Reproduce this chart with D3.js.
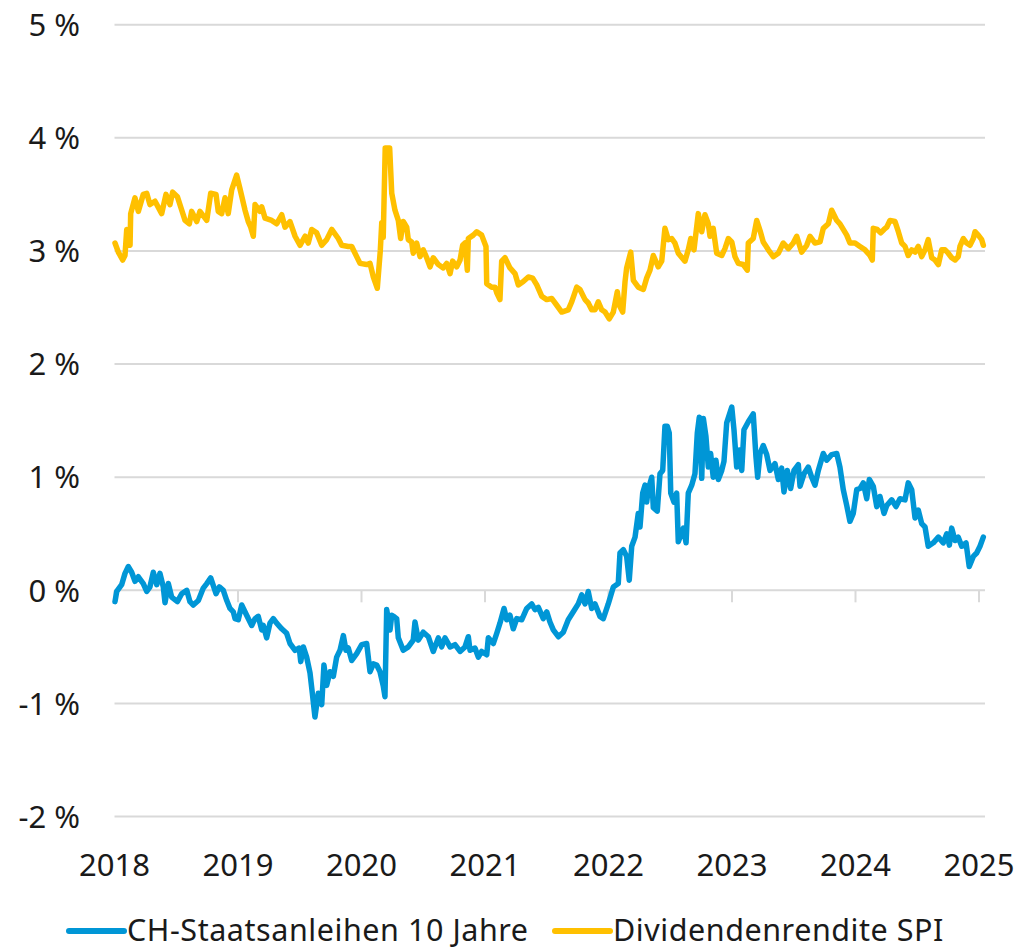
<!DOCTYPE html>
<html><head><meta charset="utf-8">
<script src="https://cdn.jsdelivr.net/npm/d3@7/dist/d3.min.js"></script>
<style>
html,body{margin:0;padding:0;background:#fff;}
svg{display:block;font-family:"Noto Sans",sans-serif;}
</style></head>
<body><svg id="chart" width="1020" height="950"></svg>
<script>
// ---- data (decimal years, percent) ----
const yearTicks = [2018, 2019, 2020, 2021, 2022, 2023, 2024, 2025];
const valueTicks = [-2, -1, 0, 1, 2, 3, 4, 5];
const seriesNames = ["CH-Staatsanleihen 10 Jahre", "Dividendenrendite SPI"];

const bondT = [2018.004,2018.018,2018.058,2018.085,2018.112,2018.139,2018.166,2018.193,2018.233,2018.261,2018.287,2018.314,2018.342,2018.368,2018.395,2018.409,2018.436,2018.463,2018.509,2018.544,2018.585,2018.611,2018.638,2018.679,2018.719,2018.747,2018.779,2018.822,2018.849,2018.881,2018.909,2018.935,2018.962,2018.976,2019.002,2019.030,2019.070,2019.111,2019.138,2019.164,2019.192,2019.205,2019.232,2019.259,2019.286,2019.313,2019.354,2019.394,2019.421,2019.462,2019.496,2019.508,2019.529,2019.556,2019.583,2019.605,2019.623,2019.650,2019.678,2019.696,2019.718,2019.745,2019.772,2019.799,2019.826,2019.853,2019.874,2019.893,2019.921,2019.961,2020.002,2020.042,2020.069,2020.096,2020.123,2020.150,2020.177,2020.190,2020.204,2020.231,2020.245,2020.259,2020.285,2020.298,2020.338,2020.379,2020.419,2020.433,2020.460,2020.500,2020.541,2020.581,2020.622,2020.649,2020.676,2020.717,2020.757,2020.798,2020.838,2020.865,2020.879,2020.919,2020.946,2020.973,2021.014,2021.027,2021.067,2021.095,2021.121,2021.154,2021.176,2021.202,2021.229,2021.257,2021.297,2021.338,2021.378,2021.405,2021.432,2021.472,2021.500,2021.526,2021.553,2021.594,2021.634,2021.674,2021.715,2021.755,2021.783,2021.810,2021.836,2021.864,2021.891,2021.931,2021.958,2021.998,2022.039,2022.079,2022.093,2022.120,2022.147,2022.168,2022.188,2022.215,2022.241,2022.255,2022.277,2022.296,2022.309,2022.322,2022.350,2022.363,2022.395,2022.417,2022.439,2022.457,2022.476,2022.492,2022.504,2022.530,2022.552,2022.565,2022.606,2022.628,2022.646,2022.674,2022.700,2022.719,2022.735,2022.755,2022.768,2022.789,2022.808,2022.827,2022.848,2022.870,2022.889,2022.917,2022.935,2022.957,2022.998,2023.016,2023.038,2023.059,2023.079,2023.097,2023.132,2023.172,2023.194,2023.208,2023.227,2023.253,2023.281,2023.308,2023.348,2023.375,2023.402,2023.421,2023.448,2023.475,2023.502,2023.537,2023.551,2023.583,2023.618,2023.645,2023.672,2023.699,2023.739,2023.767,2023.807,2023.848,2023.874,2023.901,2023.929,2023.955,2023.982,2024.010,2024.036,2024.063,2024.091,2024.112,2024.144,2024.172,2024.198,2024.231,2024.253,2024.293,2024.328,2024.360,2024.401,2024.427,2024.455,2024.482,2024.508,2024.536,2024.563,2024.589,2024.630,2024.671,2024.711,2024.739,2024.760,2024.779,2024.806,2024.832,2024.860,2024.895,2024.921,2024.954,2024.981,2025.008,2025.035];
const bondV = [-0.10,-0.01,0.05,0.15,0.21,0.16,0.08,0.12,0.06,-0.01,0.03,0.16,0.05,0.15,0.03,-0.11,0.06,-0.06,-0.10,-0.03,0.00,-0.10,-0.13,-0.09,0.02,0.06,0.11,-0.03,0.03,0.00,-0.09,-0.16,-0.19,-0.25,-0.26,-0.13,-0.22,-0.31,-0.25,-0.23,-0.35,-0.31,-0.42,-0.29,-0.25,-0.29,-0.34,-0.38,-0.47,-0.53,-0.51,-0.63,-0.50,-0.59,-0.73,-0.94,-1.12,-0.91,-1.01,-0.66,-0.84,-0.72,-0.76,-0.59,-0.53,-0.40,-0.53,-0.51,-0.62,-0.56,-0.48,-0.47,-0.72,-0.65,-0.66,-0.72,-0.85,-0.94,-0.17,-0.35,-0.22,-0.23,-0.25,-0.42,-0.53,-0.50,-0.44,-0.28,-0.44,-0.37,-0.41,-0.54,-0.42,-0.50,-0.42,-0.50,-0.48,-0.54,-0.50,-0.41,-0.53,-0.51,-0.59,-0.54,-0.57,-0.42,-0.47,-0.38,-0.29,-0.16,-0.26,-0.22,-0.34,-0.25,-0.26,-0.16,-0.12,-0.17,-0.15,-0.25,-0.19,-0.28,-0.35,-0.41,-0.37,-0.26,-0.19,-0.12,-0.04,-0.12,-0.01,-0.16,-0.12,-0.23,-0.25,-0.12,0.03,0.06,0.33,0.36,0.30,0.09,0.39,0.47,0.68,0.56,0.86,0.93,0.78,0.89,1.00,0.73,0.70,1.03,1.06,1.45,1.45,1.39,0.86,0.78,0.86,0.43,0.55,0.42,0.86,0.93,1.03,1.39,1.53,0.99,1.52,1.36,1.09,1.21,1.00,1.15,0.98,1.06,1.14,1.48,1.62,1.42,1.09,1.24,1.06,1.42,1.49,1.56,1.18,1.00,1.21,1.28,1.20,1.06,1.12,0.98,1.08,0.87,1.06,0.90,1.06,1.11,0.92,1.03,1.09,1.00,0.93,1.06,1.21,1.15,1.20,1.21,1.09,0.89,0.75,0.61,0.68,0.89,0.90,0.95,0.81,0.98,0.92,0.74,0.83,0.68,0.75,0.80,0.74,0.81,0.80,0.95,0.89,0.64,0.71,0.59,0.56,0.39,0.42,0.47,0.42,0.50,0.40,0.55,0.44,0.47,0.39,0.42,0.21,0.30,0.33,0.39,0.47];

const spiT = [2018.004,2018.031,2018.066,2018.085,2018.099,2018.126,2018.131,2018.166,2018.193,2018.233,2018.261,2018.287,2018.328,2018.382,2018.417,2018.449,2018.471,2018.509,2018.571,2018.606,2018.625,2018.666,2018.692,2018.747,2018.779,2018.822,2018.840,2018.868,2018.895,2018.921,2018.949,2018.989,2019.016,2019.057,2019.083,2019.103,2019.124,2019.138,2019.178,2019.192,2019.219,2019.273,2019.313,2019.354,2019.381,2019.421,2019.462,2019.502,2019.543,2019.569,2019.597,2019.637,2019.678,2019.718,2019.759,2019.812,2019.840,2019.893,2019.921,2019.961,2019.988,2020.042,2020.069,2020.096,2020.128,2020.152,2020.164,2020.176,2020.192,2020.228,2020.245,2020.271,2020.298,2020.317,2020.338,2020.366,2020.379,2020.406,2020.419,2020.447,2020.474,2020.500,2020.528,2020.555,2020.581,2020.622,2020.662,2020.690,2020.717,2020.738,2020.771,2020.798,2020.819,2020.838,2020.857,2020.865,2020.905,2020.933,2020.973,2021.008,2021.014,2021.054,2021.081,2021.095,2021.121,2021.135,2021.162,2021.202,2021.243,2021.270,2021.310,2021.351,2021.386,2021.419,2021.459,2021.500,2021.540,2021.581,2021.621,2021.674,2021.702,2021.743,2021.769,2021.810,2021.836,2021.864,2021.891,2021.917,2021.945,2021.972,2022.006,2022.039,2022.071,2022.087,2022.115,2022.134,2022.147,2022.180,2022.201,2022.241,2022.282,2022.309,2022.336,2022.363,2022.403,2022.431,2022.457,2022.484,2022.512,2022.538,2022.565,2022.619,2022.646,2022.666,2022.692,2022.727,2022.755,2022.781,2022.808,2022.822,2022.848,2022.876,2022.917,2022.943,2022.970,2022.998,2023.024,2023.051,2023.091,2023.124,2023.132,2023.172,2023.200,2023.227,2023.253,2023.294,2023.334,2023.375,2023.415,2023.456,2023.496,2023.524,2023.564,2023.605,2023.632,2023.672,2023.713,2023.739,2023.780,2023.807,2023.848,2023.874,2023.901,2023.929,2023.955,2023.996,2024.036,2024.077,2024.117,2024.136,2024.144,2024.176,2024.204,2024.231,2024.253,2024.279,2024.320,2024.347,2024.374,2024.401,2024.427,2024.455,2024.482,2024.508,2024.536,2024.563,2024.589,2024.617,2024.644,2024.671,2024.698,2024.725,2024.751,2024.779,2024.806,2024.832,2024.846,2024.873,2024.900,2024.927,2024.954,2024.968,2024.994,2025.022,2025.035];
const spiV = [3.07,2.99,2.92,2.96,3.19,3.05,3.33,3.47,3.35,3.50,3.51,3.41,3.44,3.33,3.50,3.41,3.52,3.48,3.27,3.24,3.35,3.26,3.35,3.27,3.51,3.50,3.35,3.33,3.47,3.33,3.54,3.67,3.55,3.36,3.26,3.21,3.13,3.41,3.35,3.39,3.29,3.27,3.24,3.32,3.21,3.26,3.13,3.05,3.13,3.07,3.19,3.16,3.05,3.10,3.19,3.11,3.05,3.04,3.04,2.95,2.89,2.88,2.89,2.77,2.67,3.00,3.25,3.12,3.91,3.91,3.51,3.36,3.27,3.11,3.26,3.21,3.10,3.08,2.98,3.07,2.95,3.01,2.94,2.86,2.94,2.88,2.85,2.89,2.80,2.91,2.86,2.92,3.05,3.07,2.83,3.11,3.14,3.17,3.14,3.04,2.71,2.68,2.68,2.63,2.57,2.91,2.94,2.85,2.80,2.70,2.73,2.77,2.76,2.70,2.60,2.57,2.58,2.52,2.46,2.48,2.55,2.68,2.66,2.57,2.54,2.48,2.48,2.55,2.48,2.46,2.40,2.46,2.64,2.52,2.46,2.73,2.85,2.99,2.74,2.68,2.66,2.76,2.83,2.96,2.86,2.91,3.20,3.10,3.11,3.07,2.98,2.91,3.01,3.11,3.01,3.33,3.17,3.32,3.24,3.13,3.20,2.98,2.96,3.02,3.11,3.08,2.95,2.89,2.88,2.83,3.07,3.11,3.27,3.18,3.08,3.01,2.95,2.98,3.07,3.02,3.07,3.13,2.99,3.05,3.13,3.07,3.08,3.20,3.24,3.36,3.27,3.24,3.19,3.14,3.07,3.07,3.04,3.01,2.96,2.92,3.20,3.19,3.16,3.19,3.21,3.27,3.26,3.17,3.07,3.04,2.96,3.01,2.99,3.04,2.95,3.01,3.10,2.94,2.92,2.88,3.01,3.01,2.98,2.94,2.92,2.95,3.04,3.11,3.07,3.05,3.11,3.17,3.14,3.10,3.05];

const colors = ["#0096D6", "#FFC000"];

// ---- drawing ----
const svg = d3.select("#chart");
const x = d3.scaleLinear().domain([2018, 2025]).range([114.5, 979]);
const y = d3.scaleLinear().domain([-2, 5]).range([816.6, 24.7]);
const gridRight = 985;

// gridlines
svg.append("g").selectAll("line").data(valueTicks).join("line")
  .attr("x1", x(2018)).attr("x2", gridRight)
  .attr("y1", d => y(d)).attr("y2", d => y(d))
  .attr("stroke", "#D9D9D9").attr("stroke-width", 2);

// year ticks at 0 line
svg.append("g").selectAll("line").data(yearTicks).join("line")
  .attr("x1", d => x(d)).attr("x2", d => x(d))
  .attr("y1", y(0)).attr("y2", y(0) + 12)
  .attr("stroke", "#D9D9D9").attr("stroke-width", 2);

// y labels
svg.append("g").selectAll("text").data(valueTicks).join("text")
  .attr("x", 80).attr("y", d => y(d)).attr("dy", "0.36em")
  .attr("text-anchor", "end").attr("font-size", 31).attr("fill", "#1a1a1a")
  .text(d => d + " %");

// x labels
svg.append("g").selectAll("text").data(yearTicks).join("text")
  .attr("x", d => x(d)).attr("y", 876)
  .attr("text-anchor", "middle").attr("font-size", 31).attr("fill", "#1a1a1a")
  .text(d => d);

const line = d3.line().x(d => x(d[0])).y(d => y(d[1]));
const series = [d3.zip(bondT, bondV), d3.zip(spiT, spiV)];
svg.append("g").selectAll("path").data(series).join("path")
  .attr("d", line).attr("fill", "none")
  .attr("stroke", (d, i) => colors[i]).attr("stroke-width", 5.5)
  .attr("stroke-linejoin", "round").attr("stroke-linecap", "round");

// legend
const legendX = [69, 555];
const lg = svg.append("g").selectAll("g").data(seriesNames).join("g")
  .attr("transform", (d, i) => `translate(${legendX[i]},931)`);
lg.append("line").attr("x1", 0).attr("x2", 55).attr("y1", 0).attr("y2", 0)
  .attr("stroke", (d, i) => colors[i]).attr("stroke-width", 6).attr("stroke-linecap", "round");
lg.append("text").attr("x", 58).attr("y", 10).attr("font-size", 30.5)
  .attr("letter-spacing", 0.55).attr("fill", "#1a1a1a")
  .text(d => d);
</script></body></html>
